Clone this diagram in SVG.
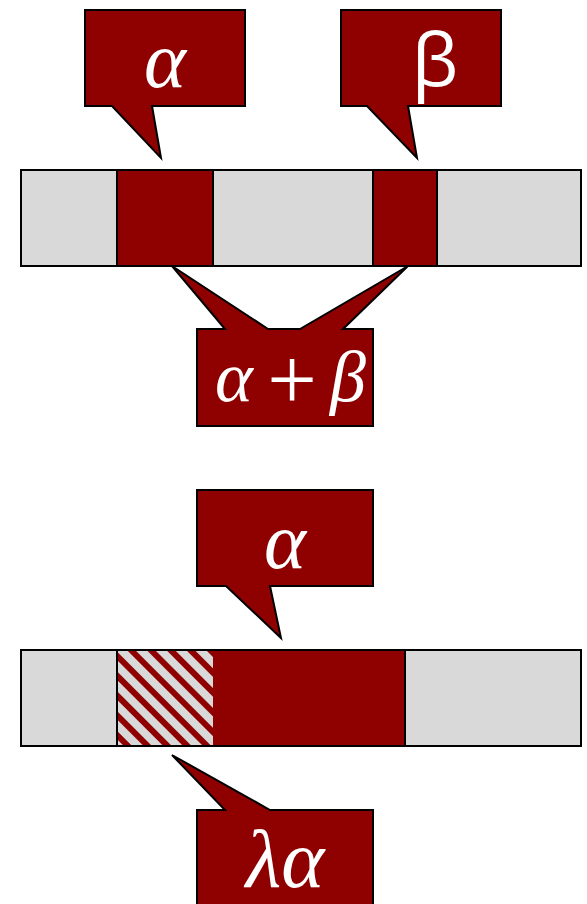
<svg xmlns="http://www.w3.org/2000/svg" width="587" height="904" viewBox="0 0 587 904">
<style>
.red{fill:#8f0000;stroke:#000;stroke-width:2;stroke-linejoin:miter}
.gray{fill:#d9d9d9;stroke:#000;stroke-width:2}
.cell{fill:#8f0000;stroke:#000;stroke-width:2}
.m{font-family:"Liberation Serif","DejaVu Serif",serif;font-style:italic;fill:#fff;text-anchor:middle}
.u{font-family:"Liberation Serif","DejaVu Serif",serif;fill:#fff;text-anchor:middle}
.s{font-family:"Open Sans","Noto Sans",sans-serif;fill:#fff;text-anchor:middle}
</style>
<defs>
<pattern id="hatch" patternUnits="userSpaceOnUse" width="14" height="14" patternTransform="rotate(45)">
<rect x="0" y="0" width="14" height="14" fill="#d9d9d9"/>
<rect x="0" y="0" width="14" height="6" fill="#8f0000"/>
</pattern>
</defs>
<g id="bar1">
<rect class="gray" x="21" y="170" width="560" height="96"/>
<rect class="cell" x="117" y="170" width="96" height="96"/>
<rect class="cell" x="373" y="170" width="64" height="96"/>
</g>
<g id="bar2">
<rect class="gray" x="21" y="650" width="560" height="96"/>
<rect x="117" y="650" width="96" height="96" fill="url(#hatch)"/>
<path d="M213 650H117V746H213" fill="none" stroke="#000" stroke-width="2"/>
<rect x="213" y="650" width="192" height="96" fill="#8f0000"/>
<path d="M213 650H405V746H213" fill="none" stroke="#000" stroke-width="2"/>
</g>
<g id="callout-alpha">
<path class="red" d="M85 10H245V106H152L161 158L112 106H85Z"/>
<text class="m" x="165" y="87" font-size="80">α</text>
</g>
<g id="callout-beta">
<path class="red" d="M341 10H501V106H408L417 158L367 106H341Z"/>
<text class="s" x="435" y="86" font-size="74">β</text>
</g>
<g id="callout-sum">
<path class="red" d="M197 329H225L172 266L268 329H300L408 266L343 329H373V426H197Z"/>
<text class="m" x="234" y="401" font-size="72">α</text>
<text class="u" x="292" y="409" font-size="88">+</text>
<text class="m" x="348" y="401" font-size="72">β</text>
</g>
<g id="callout-alpha2">
<path class="red" d="M197 490H373V586H270L281 638L226 586H197Z"/>
<text class="m" x="285" y="568" font-size="80">α</text>
</g>
<g id="callout-lambda">
<path class="red" d="M197 810H225L172 755L270 810H373V910H197Z"/>
<text class="m" x="285" y="887" font-size="82">λα</text>
</g>
</svg>
